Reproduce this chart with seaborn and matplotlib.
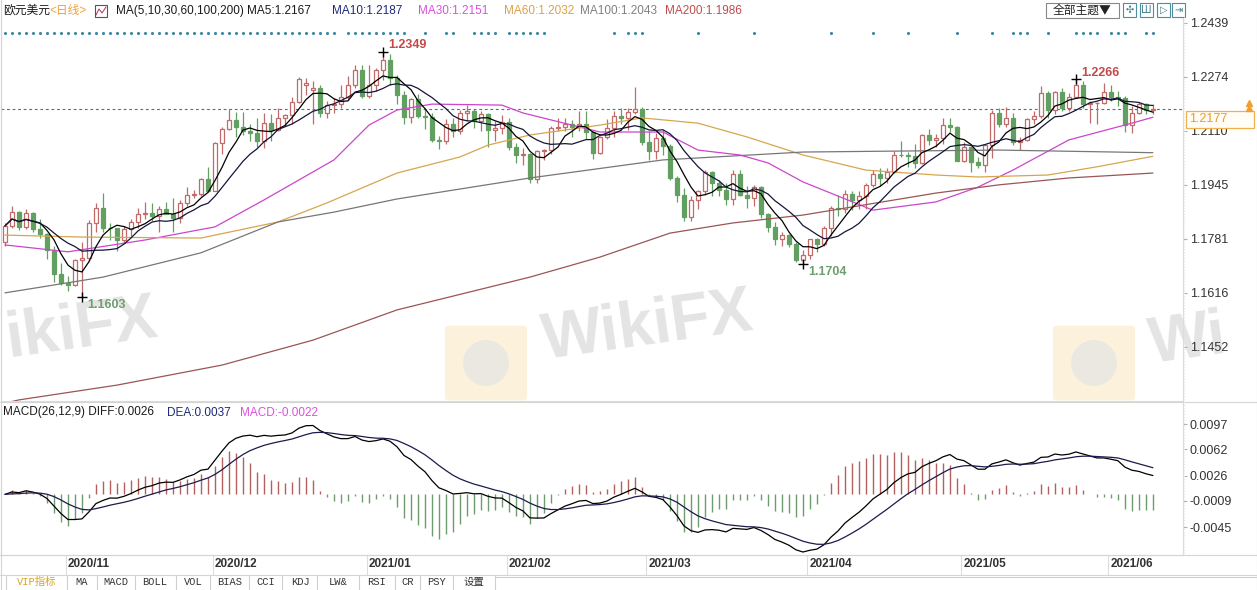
import numpy as np
import pandas as pd
import matplotlib
matplotlib.use("Agg")
import matplotlib.pyplot as plt
from matplotlib.patches import Rectangle, FancyBboxPatch, Ellipse
from matplotlib.lines import Line2D
import seaborn as sns

# EUR/USD daily candles, 2020-10-20 .. 2021-06-09 (one row per trading day)
opens = [
    1.1770, 1.1820, 1.1862, 1.1817, 1.1860, 1.1812, 1.1795, 1.1747, 1.1674, 1.1646,
    1.1641, 1.1716, 1.1722, 1.1830, 1.1875, 1.1815, 1.1813, 1.1777, 1.1810, 1.1833,
    1.1855, 1.1858, 1.1849, 1.1873, 1.1857, 1.1843, 1.1890, 1.1914, 1.1916, 1.1962,
    1.1927, 1.2072, 1.2114, 1.2144, 1.2121, 1.2108, 1.2104, 1.2078, 1.2133, 1.2113,
    1.2148, 1.2157, 1.2198, 1.2250, 1.2235, 1.2240, 1.2163, 1.2188, 1.2190, 1.2214,
    1.2249, 1.2296, 1.2217, 1.2250, 1.2296, 1.2325, 1.2272, 1.2219, 1.2152, 1.2207,
    1.2156, 1.2153, 1.2081, 1.2078, 1.2131, 1.2109, 1.2164, 1.2171, 1.2141, 1.2160,
    1.2111, 1.2119, 1.2136, 1.2061, 1.2037, 1.2040, 1.1963, 1.2049, 1.2050, 1.2118,
    1.2121, 1.2131, 1.2120, 1.2131, 1.2105, 1.2041, 1.2090, 1.2117, 1.2156, 1.2150,
    1.2167, 1.2175, 1.2075, 1.2048, 1.2089, 1.2063, 1.1966, 1.1915, 1.1848, 1.1900,
    1.1927, 1.1985, 1.1951, 1.1929, 1.1901, 1.1978, 1.1914, 1.1905, 1.1938, 1.1855,
    1.1817, 1.1780, 1.1792, 1.1764, 1.1717, 1.1730, 1.1779, 1.1764, 1.1813, 1.1875,
    1.1870, 1.1917, 1.1900, 1.1911, 1.1945, 1.1979, 1.1965, 1.1983, 1.2037, 1.2035,
    1.2034, 1.2013, 1.2096, 1.2081, 1.2089, 1.2126, 1.2121, 1.2019, 1.2060, 1.2015,
    1.2004, 1.2067, 1.2164, 1.2130, 1.2149, 1.2076, 1.2081, 1.2146, 1.2155, 1.2224,
    1.2174, 1.2227, 1.2178, 1.2213, 1.2249, 1.2192, 1.2193, 1.2193, 1.2227, 1.2212,
    1.2211, 1.2127, 1.2165, 1.2191, 1.2172,
]
highs = [
    1.1830, 1.1880, 1.1865, 1.1870, 1.1861, 1.1840, 1.1798, 1.1760, 1.1708, 1.1668,
    1.1720, 1.1770, 1.1837, 1.1890, 1.1920, 1.1830, 1.1815, 1.1820, 1.1841, 1.1875,
    1.1893, 1.1890, 1.1880, 1.1892, 1.1905, 1.1900, 1.1940, 1.1930, 1.1965, 1.2000,
    1.2077, 1.2122, 1.2177, 1.2168, 1.2166, 1.2130, 1.2148, 1.2165, 1.2160, 1.2178,
    1.2160, 1.2213, 1.2273, 1.2272, 1.2260, 1.2250, 1.2200, 1.2210, 1.2250, 1.2276,
    1.2310, 1.2310, 1.2310, 1.2302, 1.2349, 1.2345, 1.2280, 1.2230, 1.2210, 1.2222,
    1.2178, 1.2165, 1.2093, 1.2145, 1.2150, 1.2173, 1.2189, 1.2177, 1.2170, 1.2165,
    1.2140, 1.2157, 1.2150, 1.2073, 1.2057, 1.2043, 1.2051, 1.2055, 1.2125, 1.2150,
    1.2150, 1.2142, 1.2170, 1.2169, 1.2110, 1.2095, 1.2145, 1.2170, 1.2180, 1.2180,
    1.2243, 1.2183, 1.2110, 1.2102, 1.2113, 1.2070, 1.1972, 1.1935, 1.1912, 1.1930,
    1.1990, 1.1988, 1.1960, 1.1952, 1.1989, 1.1990, 1.1942, 1.1945, 1.1941, 1.1860,
    1.1833, 1.1800, 1.1795, 1.1770, 1.1747, 1.1780, 1.1783, 1.1820, 1.1880, 1.1915,
    1.1928, 1.1927, 1.1925, 1.1950, 1.1990, 1.1995, 1.1995, 1.2048, 1.2080, 1.2045,
    1.2070, 1.2100, 1.2115, 1.2100, 1.2150, 1.2150, 1.2125, 1.2075, 1.2070, 1.2030,
    1.2071, 1.2173, 1.2180, 1.2181, 1.2165, 1.2090, 1.2150, 1.2170, 1.2245, 1.2230,
    1.2230, 1.2240, 1.2225, 1.2266, 1.2260, 1.2200, 1.2198, 1.2254, 1.2250, 1.2230,
    1.2216, 1.2185, 1.2196, 1.2195, 1.2190,
]
lows = [
    1.1760, 1.1815, 1.1807, 1.1812, 1.1800, 1.1782, 1.1718, 1.1650, 1.1640, 1.1622,
    1.1637, 1.1603, 1.1713, 1.1800, 1.1800, 1.1778, 1.1745, 1.1768, 1.1790, 1.1815,
    1.1840, 1.1835, 1.1800, 1.1855, 1.1800, 1.1830, 1.1880, 1.1905, 1.1910, 1.1922,
    1.1925, 1.2040, 1.2111, 1.2090, 1.2098, 1.2080, 1.2060, 1.2058, 1.2080, 1.2110,
    1.2125, 1.2130, 1.2193, 1.2220, 1.2130, 1.2152, 1.2150, 1.2165, 1.2180, 1.2205,
    1.2240, 1.2210, 1.2210, 1.2230, 1.2265, 1.2250, 1.2190, 1.2130, 1.2132, 1.2150,
    1.2114, 1.2077, 1.2054, 1.2070, 1.2090, 1.2100, 1.2140, 1.2118, 1.2110, 1.2059,
    1.2078, 1.2101, 1.2051, 1.2011, 1.2005, 1.1952, 1.1950, 1.2020, 1.2040, 1.2110,
    1.2110, 1.2090, 1.2110, 1.2085, 1.2023, 1.2040, 1.2085, 1.2090, 1.2130, 1.2112,
    1.2160, 1.2065, 1.2022, 1.2025, 1.2035, 1.1960, 1.1893, 1.1836, 1.1835, 1.1870,
    1.1915, 1.1910, 1.1910, 1.1885, 1.1885, 1.1910, 1.1874, 1.1880, 1.1845, 1.1800,
    1.1762, 1.1760, 1.1755, 1.1710, 1.1704, 1.1720, 1.1740, 1.1760, 1.1790, 1.1850,
    1.1860, 1.1868, 1.1870, 1.1870, 1.1940, 1.1942, 1.1950, 1.1980, 1.2030, 1.2000,
    1.1995, 1.2010, 1.2065, 1.2060, 1.2070, 1.2105, 1.2018, 1.2015, 1.1985, 1.1995,
    1.1985, 1.2027, 1.2120, 1.2120, 1.2065, 1.2050, 1.2080, 1.2130, 1.2150, 1.2150,
    1.2160, 1.2170, 1.2170, 1.2210, 1.2180, 1.2134, 1.2130, 1.2190, 1.2200, 1.2185,
    1.2105, 1.2104, 1.2160, 1.2160, 1.2160,
]
closes = [
    1.1820, 1.1862, 1.1817, 1.1860, 1.1812, 1.1795, 1.1747, 1.1674, 1.1646, 1.1641,
    1.1716, 1.1722, 1.1830, 1.1875, 1.1815, 1.1813, 1.1777, 1.1810, 1.1833, 1.1855,
    1.1858, 1.1849, 1.1873, 1.1857, 1.1843, 1.1890, 1.1914, 1.1916, 1.1962, 1.1927,
    1.2072, 1.2114, 1.2144, 1.2121, 1.2108, 1.2104, 1.2078, 1.2133, 1.2113, 1.2148,
    1.2157, 1.2198, 1.2266, 1.2255, 1.2240, 1.2163, 1.2188, 1.2190, 1.2214, 1.2249,
    1.2296, 1.2217, 1.2250, 1.2296, 1.2325, 1.2272, 1.2219, 1.2152, 1.2207, 1.2156,
    1.2153, 1.2081, 1.2078, 1.2131, 1.2109, 1.2164, 1.2171, 1.2141, 1.2160, 1.2111,
    1.2119, 1.2136, 1.2061, 1.2037, 1.2040, 1.1963, 1.2049, 1.2050, 1.2118, 1.2121,
    1.2131, 1.2120, 1.2131, 1.2105, 1.2041, 1.2090, 1.2117, 1.2156, 1.2150, 1.2167,
    1.2175, 1.2075, 1.2048, 1.2089, 1.2063, 1.1966, 1.1915, 1.1848, 1.1900, 1.1927,
    1.1985, 1.1951, 1.1929, 1.1901, 1.1978, 1.1914, 1.1905, 1.1938, 1.1855, 1.1817,
    1.1780, 1.1792, 1.1764, 1.1717, 1.1730, 1.1779, 1.1764, 1.1813, 1.1875, 1.1870,
    1.1917, 1.1900, 1.1911, 1.1945, 1.1979, 1.1965, 1.1983, 1.2037, 1.2035, 1.2034,
    1.2013, 1.2096, 1.2081, 1.2089, 1.2126, 1.2121, 1.2019, 1.2060, 1.2015, 1.2004,
    1.2067, 1.2164, 1.2130, 1.2149, 1.2076, 1.2081, 1.2146, 1.2155, 1.2224, 1.2174,
    1.2227, 1.2178, 1.2213, 1.2249, 1.2192, 1.2193, 1.2193, 1.2227, 1.2212, 1.2211,
    1.2127, 1.2165, 1.2191, 1.2172, 1.2177,
]

# long moving averages (candle index, value)
ma30_idx = [0, 9, 20, 30, 37, 47, 52, 56, 61, 71, 74, 85, 94, 99, 105, 109, 114, 124, 133, 139, 144, 152, 161, 164]
ma30_val = [1.1762, 1.1741, 1.1777, 1.1817, 1.1899, 1.2021, 1.2127, 1.2173, 1.2191, 1.2188, 1.2164, 1.2106,
            1.2106, 1.2051, 1.2036, 1.2012, 1.1954, 1.1868, 1.1893, 1.1938, 1.1990, 1.2082, 1.2133, 1.2151]
ma60_idx = [0, 11, 28, 39, 46, 56, 65, 69, 75, 85, 91, 99, 106, 114, 123, 133, 139, 149, 156, 164]
ma60_val = [1.1792, 1.1786, 1.1783, 1.1832, 1.1890, 1.1981, 1.2030, 1.2066, 1.2097, 1.2127, 1.2149, 1.2133,
            1.2091, 1.2036, 1.1990, 1.1975, 1.1969, 1.1975, 1.2000, 1.2032]
ma100_idx = [0, 14, 28, 39, 47, 56, 75, 94, 114, 142, 164]
ma100_val = [1.1616, 1.1664, 1.1738, 1.1832, 1.1862, 1.1902, 1.1966, 1.2021, 1.2045, 1.2051, 1.2043]
ma200_idx = [0, 2, 16, 31, 44, 56, 75, 85, 95, 104, 114, 133, 142, 152, 164]
ma200_val = [1.1280, 1.1290, 1.1335, 1.1396, 1.1472, 1.1564, 1.1664, 1.1725, 1.1798, 1.1829, 1.1853,
             1.1920, 1.1945, 1.1966, 1.1981]

# event dots along the top of the price panel
dot_idx = (list(range(0, 48)) + list(range(49, 58)) + [60, 63, 64, 67, 68, 69, 70]
           + list(range(72, 78)) + [87, 89, 90, 91, 99, 107, 118, 124, 129, 136, 141,
                                    144, 145, 146, 149, 153, 154, 155, 156, 158, 159, 160, 163, 164])

month_labels = ["2020/11", "2020/12", "2021/01", "2021/02", "2021/03", "2021/04", "2021/05", "2021/06"]
month_idx = [9, 30, 52, 72, 92, 115, 137, 158]
price_ticks = [1.2439, 1.2274, 1.2110, 1.1945, 1.1781, 1.1616, 1.1452]
macd_ticks = [0.0097, 0.0062, 0.0026, -0.0009, -0.0045]
high_marks = [54, 153]
low_marks = [11, 114]

UP = "#c06a6a"
DN = "#62a062"

sns.set_theme(style="white")
plt.rcParams["font.family"] = ["Liberation Sans", "Noto Sans CJK SC", "DejaVu Sans"]

W, H = 1257, 590
fig = plt.figure(figsize=(W / 100, H / 100), dpi=100)
fig.patch.set_facecolor("white")


def rect(x0, y0, x1, y1):
    return [x0 / W, 1 - y1 / H, (x1 - x0) / W, (y1 - y0) / H]


def fxy(x, y):
    return x / W, 1 - y / H


def fig_line(xs, ys, **kw):
    fig.add_artist(Line2D([x / W for x in xs], [1 - y / H for y in ys],
                          transform=fig.transFigure, **kw))


ax = fig.add_axes(rect(1, 16, 1183, 401))
axm = fig.add_axes(rect(1, 403, 1183, 555), sharex=ax)
for a in (ax, axm):
    a.patch.set_visible(False)

# watermarks behind everything (only the visible part of the word at the edges)
wm = dict(color="#e4e4e4", fontsize=46, fontweight="bold", ha="left", va="center",
          rotation=8, rotation_mode="anchor", zorder=-2)
fig.text(*fxy(6, 340), "ikiFX", **wm)
fig.text(*fxy(543, 342), "WikiFX", **wm)
fig.text(*fxy(1150, 346), "Wi", **wm)
for x0 in (450, 1058):
    fig.add_artist(FancyBboxPatch(fxy(x0, 398), 72 / W, 70 / H, boxstyle="round,pad=0.004",
                                  transform=fig.transFigure, fc="#fcf2dc", ec="none", zorder=-3))
    fig.add_artist(Ellipse(fxy(x0 + 36, 363), 46 / W, 46 / H, transform=fig.transFigure,
                           fc="#ebe8e1", ec="none", zorder=-2))

df = pd.DataFrame({"open": opens, "high": highs, "low": lows, "close": closes})
df["i"] = np.arange(len(df))
up = df[df.close >= df.open]
dn = df[df.close < df.open]

# candles
ax.vlines(up.i, up.low, up.high, color=UP, lw=0.9, zorder=3)
ax.bar(up.i, (up.close - up.open).clip(lower=0.00006), bottom=up.open, width=0.64,
       facecolor="white", edgecolor=UP, lw=0.9, zorder=4)
ax.vlines(dn.i, dn.low, dn.high, color=DN, lw=0.9, zorder=3)
ax.bar(dn.i, dn.open - dn.close, bottom=dn.close, width=0.64,
       facecolor=DN, edgecolor=DN, lw=0.9, zorder=4)

# moving averages
ma5 = df.close.rolling(5, min_periods=1).mean()
ma10 = df.close.rolling(10, min_periods=1).mean()
sns.lineplot(x=df.i, y=ma5, ax=ax, color="#000000", lw=0.9, zorder=6)
sns.lineplot(x=df.i, y=ma10, ax=ax, color="#15153a", lw=0.9, zorder=6)
for idx, val, col in [(ma30_idx, ma30_val, "#cc45cc"), (ma60_idx, ma60_val, "#d6a64e"),
                      (ma100_idx, ma100_val, "#777777"), (ma200_idx, ma200_val, "#9a5555")]:
    sns.lineplot(x=idx, y=val, ax=ax, color=col, lw=0.9, zorder=5)

# last price
ax.axhline(closes[-1], color="#2f7f8f", lw=0.8, ls=(0, (2.5, 2.5)), zorder=2)

# highs / lows
for i in high_marks:
    ax.plot(i, highs[i], marker="+", color="black", ms=7, mew=1, zorder=7)
    ax.annotate(f"{highs[i]:.4f}", (i, highs[i]), xytext=(4, 5), textcoords="offset points",
                color="#c44848", fontsize=9, fontweight="bold", va="center")
for i in low_marks:
    ax.plot(i, lows[i], marker="+", color="black", ms=7, mew=1, zorder=7)
    ax.annotate(f"{lows[i]:.4f}", (i, lows[i]), xytext=(4, -6), textcoords="offset points",
                color="#6f9e6f", fontsize=9, fontweight="bold", va="center")

ax.scatter(dot_idx, [0.956] * len(dot_idx), transform=ax.get_xaxis_transform(),
           s=5, color="#3c86a6", linewidths=0, zorder=5)

# MACD
ema12 = df.close.ewm(span=12, adjust=False).mean()
ema26 = df.close.ewm(span=26, adjust=False).mean()
diff = ema12 - ema26
dea = diff.ewm(span=9, adjust=False).mean()
macd = 2 * (diff - dea)
pos = macd >= 0
axm.vlines(df.i[pos], 0, macd[pos], color="#b55f5f", lw=1)
axm.vlines(df.i[~pos], 0, macd[~pos], color="#6e9c6e", lw=1)
sns.lineplot(x=df.i, y=diff, ax=axm, color="#000000", lw=0.9)
sns.lineplot(x=df.i, y=dea, ax=axm, color="#1b1b4d", lw=0.9)

for a in (ax, axm):
    a.set_xlim(-0.57, 168.3)
    a.set_xlabel("")
    a.set_ylabel("")
    a.grid(False)
    for side, s in a.spines.items():
        s.set_color("#dcdcdc")
        s.set_linewidth(0.8)
    a.spines["top"].set_visible(False)
    a.yaxis.tick_right()
    a.tick_params(axis="y", length=3, width=0.8, color="#b0b0b0", pad=2,
                  labelsize=9, labelcolor="#333333")
    a.tick_params(axis="x", length=0)
ax.set_ylim(1.12866, 1.24594)
axm.set_ylim(-0.00836, 0.01260)
ax.set_yticks(price_ticks, [f"{v:.4f}" for v in price_ticks])
axm.set_yticks(macd_ticks, [f"{v:.4f}" for v in macd_ticks])
axm.set_xticks(month_idx, month_labels)
plt.setp(ax.get_xticklabels(), visible=False)
axm.tick_params(axis="x", pad=2, labelsize=8.5, labelcolor="#333333")
for t in axm.get_xticklabels():
    t.set_fontweight("bold")
    t.set_ha("left")
axm.vlines([m - 0.35 for m in month_idx], -0.132, 0, transform=axm.get_xaxis_transform(),
           color="#dddddd", lw=0.8, clip_on=False)

# header of price panel
hdr = [(3, "欧元美元", "#1a1a1a"), (49, "<日线>", "#f0a040"),
       (116, "MA(5,10,30,60,100,200)", "#1a1a1a"), (247, "MA5:1.2167", "#1a1a1a"),
       (332, "MA10:1.2187", "#1e2a7a"), (418, "MA30:1.2151", "#dd4fdd"),
       (504, "MA60:1.2032", "#d9a24a"), (580, "MA100:1.2043", "#808080"),
       (665, "MA200:1.1986", "#c44a4a")]
for x, s, c in hdr:
    fig.text(*fxy(x, 11), s, color=c, fontsize=8.5, va="center")
fig.add_artist(Rectangle(fxy(95, 17), 12 / W, 12 / H, transform=fig.transFigure,
                         fc="white", ec="#555555", lw=0.8))
fig_line([96, 99, 102, 106], [15, 9, 13, 7], color="#aa3355", lw=0.7)

# macd header
mh = [(3, "MACD(26,12,9) DIFF:0.0026", "#1a1a1a"), (167, "DEA:0.0037", "#1e2a7a"),
      (240, "MACD:-0.0022", "#dd4fdd")]
for x, s, c in mh:
    fig.text(*fxy(x, 412.5), s, color=c, fontsize=8.5, va="center")

# top-right buttons
fig.add_artist(Rectangle(fxy(1046, 18), 73 / W, 15 / H, transform=fig.transFigure,
                         fc="white", ec="#888888", lw=0.8))
fig.text(*fxy(1082, 10.5), "全部主题▼", fontsize=8.5, color="#222222", ha="center", va="center",
         family=["Noto Sans CJK SC", "DejaVu Sans"])
for x0, g in [(1123, "✣"), (1140, "Ш"), (1157, "▷"), (1172, "⇥")]:
    fig.add_artist(Rectangle(fxy(x0, 17), 13 / W, 14 / H, transform=fig.transFigure,
                             fc="white", ec="#4d8f9c", lw=0.8))
    fig.text(*fxy(x0 + 6.5, 10), g, fontsize=7, color="#3d7f8c", ha="center", va="center",
             family=["DejaVu Sans"])

# last price tag
fig.add_artist(Rectangle(fxy(1186, 128), 68 / W, 17 / H, transform=fig.transFigure,
                         fc="#fffdf6", ec="#f0b14c", lw=0.9))
fig.text(*fxy(1189, 119.5), f"{closes[-1]:.4f}", color="#eb9a2a", fontsize=9, va="center")
for yy in (103, 107.5):
    fig.add_artist(Line2D([1249 / W], [1 - yy / H], marker="^", ms=4, color="#f0a030",
                          transform=fig.transFigure))

# frame lines
for y in (402, 555, 575):
    fig_line([0, W], [y, y], color="#d4d4d4", lw=0.8)
fig_line([1184, 1184], [16, 555], color="#e6e6e6", lw=0.8, ls=":")
fig_line([0.5, 0.5], [0, H], color="#d4d4d4", lw=0.8)
fig_line([W - 0.5, W - 0.5], [0, H], color="#d4d4d4", lw=0.8)

# indicator tabs
tabs = ["VIP指标", "MA", "MACD", "BOLL", "VOL", "BIAS", "CCI", "KDJ", "LW&", "RSI", "CR", "PSY", "设置"]
tab_x = [37, 82, 116, 155, 193, 230, 266, 300, 338, 377, 408, 437, 474]
tab_sep = [6, 67, 97, 135, 176, 210, 249, 282, 317, 359, 395, 420, 453, 495]
for s, x in zip(tabs, tab_x):
    fig.text(*fxy(x, 582), s, fontsize=7.5, ha="center", va="center",
             color="#d9a21f" if s.startswith("VIP") else "#333333",
             family=["Liberation Mono", "Noto Sans CJK SC"])
for x in tab_sep:
    fig_line([x, x], [576, H], color="#cfcfcf", lw=0.8)
fig_line([495, W], [577, 577], color="#cfcfcf", lw=0.8)

fig.savefig("out.png", dpi=100)
